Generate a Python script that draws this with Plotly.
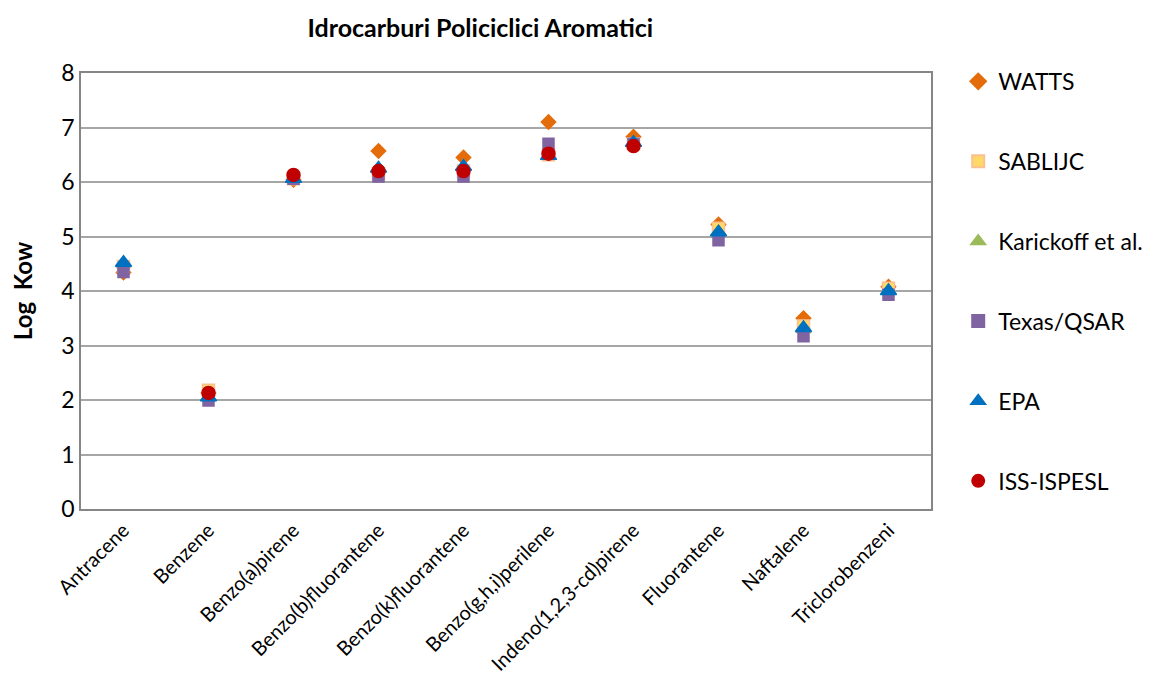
import plotly.graph_objects as go

categories = ["Antracene", "Benzene", "Benzo(a)pirene", "Benzo(b)fluorantene",
              "Benzo(k)fluorantene", "Benzo(g,h,i)perilene", "Indeno(1,2,3-cd)pirene",
              "Fluorantene", "Naftalene", "Triclorobenzeni"]

watts = [4.34, 2.13, 6.04, 6.57, 6.45, 7.10, 6.83, 5.22, 3.50, 4.08]
sablijc = [4.45, 2.18, 6.06, 6.15, 6.20, 6.50, 6.70, 5.15, 3.36, 4.05]
karickoff = [4.50, 2.05, 6.06, 6.25, 6.28, 6.48, 6.72, 5.08, 3.30, 4.00]
texas = [4.35, 1.99, 6.06, 6.10, 6.10, 6.70, 6.70, 4.93, 3.17, 3.93]
epa = [4.52, 2.05, 6.06, 6.25, 6.28, 6.48, 6.72, 5.08, 3.32, 4.00]
iss = [None, 2.13, 6.13, 6.20, 6.20, 6.52, 6.66, None, None, None]

series = [
    ("WATTS", watts, "diamond", 11, "#E46C0A", "#E46C0A"),
    ("SABLIJC", sablijc, "square", 12, "#FFD966", "#FAC090"),
    ("Karickoff et al.", karickoff, "triangle-up", 13, "#9BBB59", "#9BBB59"),
    ("Texas/QSAR", texas, "square", 11, "#8064A2", "#8064A2"),
    ("EPA", epa, "triangle-up", 14, "#0070C0", "#0070C0"),
    ("ISS-ISPESL", iss, "circle", 13, "#C00000", "#C00000"),
]

fig = go.Figure()
for name, vals, sym, size, fill, line in series:
    fig.add_trace(go.Scatter(
        x=categories, y=vals, mode="markers", name=name, legendgroup=name,
        marker=dict(symbol=sym, size=size, color=fill, line=dict(color=line, width=1.5)),
    ))

font = "Lato, 'Open Sans', sans-serif"
fig.update_layout(
    width=1163, height=675,
    paper_bgcolor="white", plot_bgcolor="white",
    margin=dict(l=81, r=232, t=73, b=166),
    font=dict(family=font, color="black"),
    title=dict(text="<b>Idrocarburi Policiclici Aromatici</b>", x=0.413, xanchor="center",
               y=0.958, yanchor="middle", font=dict(size=25)),
    showlegend=True,
    legend=dict(x=1.032, xanchor="left", y=1.03, yanchor="top", tracegroupgap=47,
                maxheight=1, font=dict(size=23), itemsizing="constant",
                bgcolor="rgba(0,0,0,0)"),
    xaxis=dict(type="category", tickangle=-45, tickfont=dict(size=20), automargin=False,
               showline=True, linecolor="#868686", linewidth=1.5, mirror=True,
               showgrid=False, ticks="", range=[-0.5, 9.5]),
    yaxis=dict(range=[0, 8], dtick=1, tickfont=dict(size=23), automargin=False,
               showline=True, linecolor="#868686", linewidth=1.5, mirror=True,
               showgrid=True, gridcolor="#A6A6A6", gridwidth=1.5, zeroline=False,
               title=dict(text="<b>Log  Kow</b>", font=dict(size=24), standoff=22)),
)

fig.write_html("out.html", config={"displayModeBar": False},
               post_script="document.body.style.margin='0';")
